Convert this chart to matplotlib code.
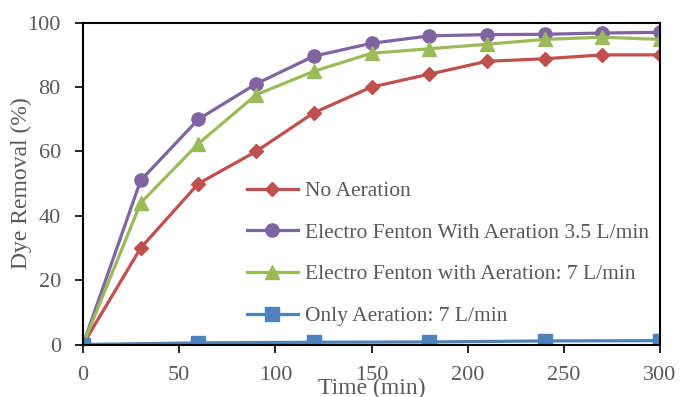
import matplotlib
matplotlib.use("Agg")
import matplotlib.pyplot as plt

time_red = [0, 30, 60, 90, 120, 150, 180, 210, 240, 270, 300]
no_aeration = [0, 30, 50, 60, 72, 80, 84, 88, 88.8, 90, 90]
ef_35 = [0, 51, 70, 81, 89.6, 93.6, 95.9, 96.3, 96.4, 96.8, 97]
ef_7 = [0, 44, 62.4, 77.6, 84.9, 90.5, 91.9, 93.3, 94.8, 95.5, 94.8]
time_blue = [0, 60, 120, 180, 240, 300]
only_aeration = [0, 0.5, 0.7, 0.8, 1.1, 1.2]

labels = ["No Aeration", "Electro Fenton With Aeration 3.5 L/min",
          "Electro Fenton with Aeration: 7 L/min", "Only Aeration: 7 L/min"]

plt.rcParams['font.family'] = ['Liberation Serif', 'DejaVu Serif']
grey = '#595959'

fig = plt.figure(figsize=(6.8, 3.97), dpi=100)
ax = fig.add_axes([83/680, 1-344.5/397, (660-83)/680, (344.5-22.7)/397])

lw = 2.3
ax.plot(time_red, no_aeration, color='#C0504D', marker='D', markersize=6.8, lw=lw, label=labels[0])
ax.plot(time_red, ef_35, color='#8064A2', marker='o', markersize=9.5, lw=lw, label=labels[1])
ax.plot(time_red, ef_7, color='#9BBB59', marker='^', markersize=10.5, lw=lw, label=labels[2])
ax.plot(time_blue, only_aeration, color='#4F81BD', marker='s', markersize=9.5, lw=lw, label=labels[3])

ax.set_xlim(0, 300)
ax.set_ylim(0, 100)
ax.set_xticks(range(0, 301, 50))
ax.set_yticks(range(0, 101, 20))
ax.tick_params(direction='out', length=6, width=1.2, labelsize=16, labelcolor=grey, color='black')
ax.tick_params(axis='x', pad=9.5)
ax.tick_params(axis='y', pad=10)
for s in ax.spines.values():
    s.set_linewidth(1.5)
    s.set_color('black')

ax.set_ylabel("Dye Removal (%)", fontsize=17, color=grey, labelpad=-3)
ax.set_xlabel("Time (min)", fontsize=17, color=grey, labelpad=-5.5)

leg = ax.legend(loc='upper left', bbox_to_anchor=(155/577, 1-150/322), frameon=False,
                fontsize=15.5, labelcolor=grey, handlelength=2.4, handletextpad=0.3,
                labelspacing=1.0, borderaxespad=0)
for h in leg.legend_handles:
    h.set_clip_on(False)

fig.savefig("out.png", dpi=100)
